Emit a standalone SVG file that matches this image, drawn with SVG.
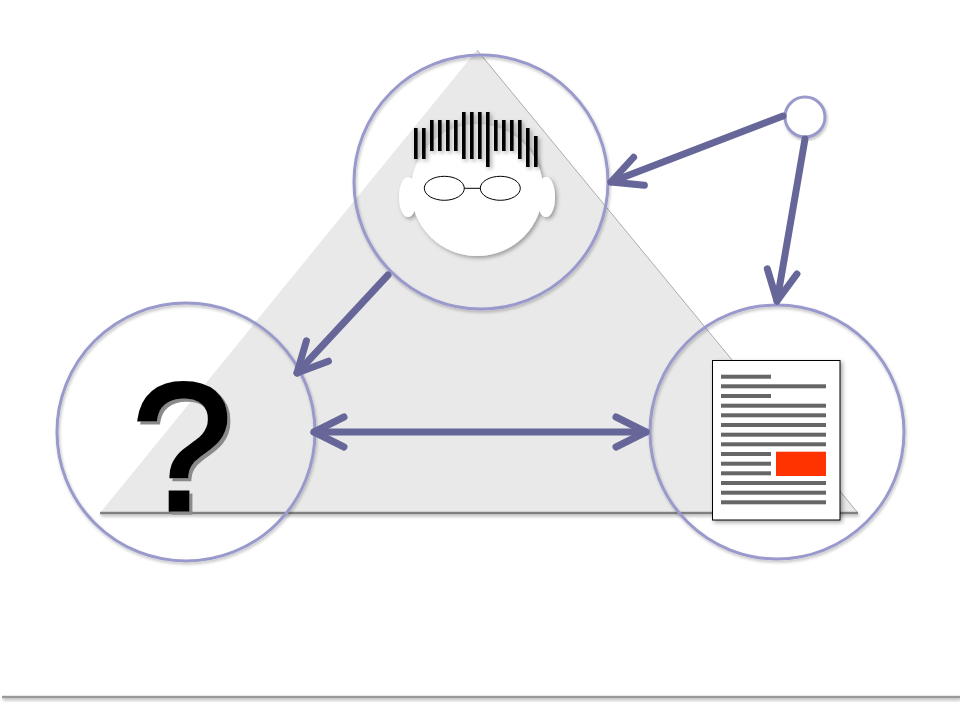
<svg xmlns="http://www.w3.org/2000/svg" width="960" height="720" viewBox="0 0 960 720">
  <defs>
    <filter id="shadow" x="-20%" y="-20%" width="140%" height="140%">
      <feGaussianBlur in="SourceAlpha" stdDeviation="2"/>
      <feOffset dx="2" dy="2" result="b"/>
      <feFlood flood-color="#000" flood-opacity="0.35"/>
      <feComposite in2="b" operator="in"/>
      <feMerge><feMergeNode/><feMergeNode in="SourceGraphic"/></feMerge>
    </filter>
    <filter id="soft" x="-10%" y="-10%" width="120%" height="120%">
      <feGaussianBlur in="SourceAlpha" stdDeviation="1.5"/>
      <feOffset dx="1" dy="2" result="b"/>
      <feFlood flood-color="#000" flood-opacity="0.25"/>
      <feComposite in2="b" operator="in"/>
      <feMerge><feMergeNode/><feMergeNode in="SourceGraphic"/></feMerge>
    </filter>
    <filter id="hard" x="-10%" y="-10%" width="130%" height="130%">
      <feOffset in="SourceAlpha" dx="2.5" dy="2.5" result="o"/>
      <feGaussianBlur in="o" stdDeviation="0.6" result="b"/>
      <feFlood flood-color="#8a8a8a"/>
      <feComposite in2="b" operator="in"/>
      <feMerge><feMergeNode/><feMergeNode in="SourceGraphic"/></feMerge>
    </filter>
    <filter id="lineShadow" filterUnits="userSpaceOnUse" x="0" y="0" width="960" height="720">
      <feGaussianBlur in="SourceAlpha" stdDeviation="1.5"/>
      <feOffset dx="1" dy="2" result="b"/>
      <feFlood flood-color="#000" flood-opacity="0.3"/>
      <feComposite in2="b" operator="in"/>
      <feMerge><feMergeNode/><feMergeNode in="SourceGraphic"/></feMerge>
    </filter>
    <marker id="head" markerUnits="userSpaceOnUse" viewBox="-40 -20 45 40" refX="0" refY="0" markerWidth="45" markerHeight="40" orient="auto-start-reverse" overflow="visible">
      <path d="M -30 -15 L 0 0 L -30 15" fill="none" stroke="#666699" stroke-width="7" stroke-linecap="round" stroke-linejoin="round"/>
    </marker>
  </defs>
  <style>
    .ring { fill: none; stroke: #9999cc; stroke-width: 3; }
    .conn { fill: none; stroke: #666699; stroke-width: 7; stroke-linecap: round; marker-end: url(#head); }
    .hair { fill: #000; }
    .txt { fill: #666; }
    .glass { fill: none; stroke: #000; stroke-width: 1; }
    .qm { font-family: "Liberation Sans", Arial, sans-serif; font-size: 181px; text-anchor: middle; fill: #000; stroke: #000; stroke-width: 3.5; }
  </style>

  <rect width="960" height="720" fill="#fff"/>

  <g id="triangle">
    <polygon points="477,50 100,513 858,513" fill="#e9e9e9"/>
    <line x1="477" y1="50" x2="858" y2="513" stroke="#999" stroke-width="0.8"/>
    <rect x="100" y="511.8" width="758" height="2.5" fill="#808080" filter="url(#lineShadow)"/>
  </g>

  <g id="person">
    <g filter="url(#shadow)">
      <ellipse cx="408" cy="197" rx="9" ry="20" fill="#fff"/>
      <ellipse cx="546" cy="197" rx="9" ry="20" fill="#fff"/>
      <circle cx="477" cy="190" r="66" fill="#fff"/>
    </g>
    <g filter="url(#shadow)">
      <rect class="hair" x="414" y="128" width="3.6" height="31"/>
      <rect class="hair" x="422" y="128" width="3.6" height="31"/>
      <rect class="hair" x="430" y="120" width="3.6" height="31"/>
      <rect class="hair" x="438" y="120" width="3.6" height="31"/>
      <rect class="hair" x="446" y="120" width="3.6" height="31"/>
      <rect class="hair" x="454" y="120" width="3.6" height="31"/>
      <rect class="hair" x="462" y="112" width="3.6" height="47"/>
      <rect class="hair" x="470" y="112" width="3.6" height="47"/>
      <rect class="hair" x="478" y="112" width="3.6" height="47"/>
      <rect class="hair" x="486" y="112" width="3.6" height="55"/>
      <rect class="hair" x="494" y="120" width="3.6" height="31"/>
      <rect class="hair" x="502" y="120" width="3.6" height="31"/>
      <rect class="hair" x="510" y="120" width="3.6" height="31"/>
      <rect class="hair" x="518" y="120" width="3.6" height="39"/>
      <rect class="hair" x="526" y="128" width="3.6" height="39"/>
      <rect class="hair" x="534" y="136" width="3.6" height="31"/>
    </g>
    <ellipse class="glass" cx="444.3" cy="188.3" rx="20" ry="12"/>
    <ellipse class="glass" cx="500.3" cy="188.3" rx="20" ry="12"/>
    <line class="glass" x1="464.3" y1="188.3" x2="480.3" y2="188.3"/>
    <circle class="ring" cx="481" cy="182" r="127" filter="url(#soft)"/>
  </g>

  <g id="question">
    <text class="qm" x="182" y="510" filter="url(#hard)">?</text>
    <circle class="ring" cx="186" cy="432" r="129" filter="url(#soft)"/>
  </g>

  <g id="document">
    <rect x="712.5" y="360.5" width="127.5" height="159.5" fill="#fff" stroke="#000" stroke-width="1" filter="url(#shadow)"/>
    <rect class="txt" x="721" y="374.7" width="50" height="4"/>
    <rect class="txt" x="721" y="384.3" width="105" height="4"/>
    <rect class="txt" x="721" y="394" width="50" height="4"/>
    <rect class="txt" x="721" y="403.7" width="105" height="4"/>
    <rect class="txt" x="721" y="413.3" width="105" height="4"/>
    <rect class="txt" x="721" y="423" width="105" height="4"/>
    <rect class="txt" x="721" y="432.7" width="105" height="4"/>
    <rect class="txt" x="721" y="442.3" width="105" height="4"/>
    <rect class="txt" x="721" y="452" width="50" height="4"/>
    <rect class="txt" x="721" y="461.7" width="50" height="4"/>
    <rect class="txt" x="721" y="471.3" width="50" height="4"/>
    <rect class="txt" x="721" y="481" width="105" height="4"/>
    <rect class="txt" x="721" y="490.7" width="105" height="4"/>
    <rect class="txt" x="721" y="500.3" width="105" height="4"/>
    <rect x="776" y="451.7" width="50" height="24.3" fill="#ff3300"/>
    <circle class="ring" cx="777" cy="432" r="127" filter="url(#soft)"/>
  </g>

  <g id="source">
    <circle cx="805" cy="117" r="20" fill="#fff" stroke="#9999cc" stroke-width="3" filter="url(#soft)"/>
  </g>

  <g id="connectors">
    <line class="conn" x1="783" y1="116" x2="611" y2="182"/>
    <line class="conn" x1="805" y1="139" x2="777" y2="301"/>
    <line class="conn" x1="388" y1="275" x2="297" y2="373"/>
    <line class="conn" x1="314" y1="432" x2="646" y2="432" style="marker-start:url(#head)"/>
  </g>

  <g id="footer">
    <rect x="2" y="695.8" width="958" height="2.5" fill="#999" filter="url(#lineShadow)"/>
  </g>
</svg>
